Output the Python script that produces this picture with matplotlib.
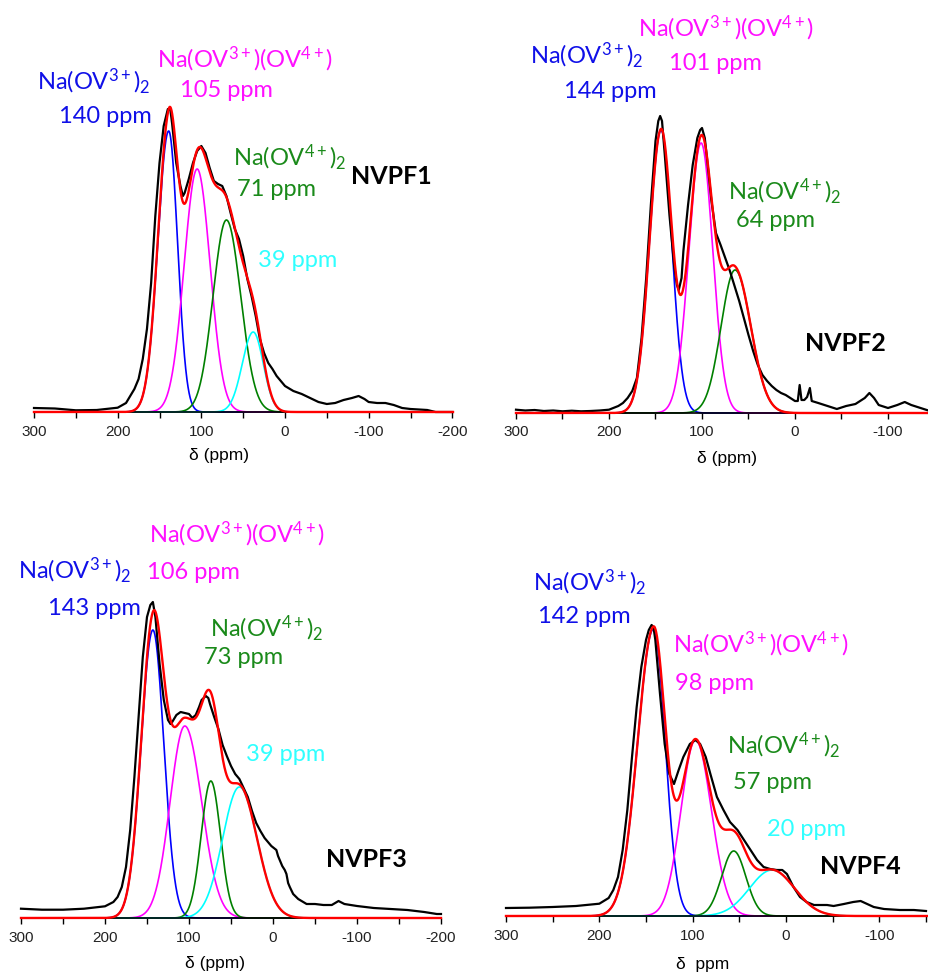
import numpy as np
import matplotlib.pyplot as plt

plt.rcParams['mathtext.fontset'] = 'custom'
plt.rcParams['mathtext.rm'] = 'Lato'
plt.rcParams['mathtext.it'] = 'Lato:italic'
plt.rcParams['mathtext.bf'] = 'Lato:bold'
plt.rcParams['axes.unicode_minus'] = False

# ---- measured spectra (ppm, intensity) ----
nvpf1_ppm = [300, 275, 250, 225, 200, 190, 180, 175, 170, 165, 160, 155, 150, 145, 140, 137, 135, 130, 125, 122,
             120, 115, 110, 105, 100, 95, 90, 85, 80, 75, 70, 65, 60, 55, 50, 45, 40, 35, 30, 25,
             20, 15, 10, 5, 0, -10, -20, -30, -40, -50, -60, -70, -80, -88, -95, -100, -110, -120, -130, -140,
             -150, -160, -170, -180, -200]
nvpf1_int = [4, 3.5, 1.7, 2, 4.3, 9, 23, 33, 53, 83, 129, 196, 249, 286, 303, 302, 289, 249, 226, 216,
             219, 233, 249, 261, 266, 259, 244, 231, 228, 226, 216, 199, 183, 173, 156, 133, 116, 96, 73, 59,
             49, 43, 36, 31, 26, 21, 18, 14, 10, 8, 9, 12, 14, 16, 13, 10, 9, 9, 7, 4,
             3, 2.5, 2, 0, 0]

nvpf2_ppm = [300, 290, 280, 270, 260, 250, 240, 230, 220, 210, 200, 190, 185, 180, 175, 170, 165, 160, 155, 150,
             147, 145, 143, 140, 135, 130, 127, 125, 122, 120, 115, 110, 105, 102, 100, 97, 95, 90, 85, 80,
             75, 70, 65, 60, 55, 50, 45, 40, 35, 30, 25, 20, 15, 10, 5, 0, -3, -5, -7, -10,
             -13, -16, -18, -25, -35, -45, -55, -65, -75, -80, -85, -90, -100, -110, -118, -125, -135, -145]
nvpf2_int = [3.3, 2.5, 3, 2, 2.5, 1.7, 2.3, 1.7, 2, 2.5, 3.3, 7, 10, 15, 22, 35, 75, 135, 208, 272,
             292, 297, 292, 258, 198, 148, 128, 123, 135, 162, 208, 248, 275, 283, 285, 275, 258, 213, 180, 168,
             155, 142, 127, 112, 95, 78, 62, 48, 38, 32, 27, 23, 20, 18, 15, 12, 12, 28, 13, 13,
             16, 25, 12, 10, 7, 4, 7, 9, 15, 20, 15, 8, 5, 8, 11, 8, 5, 2]

nvpf3_ppm = [300, 275, 250, 225, 200, 190, 185, 180, 175, 170, 165, 160, 155, 150, 146, 143, 140, 135, 130, 125,
             122, 120, 115, 110, 105, 100, 96, 92, 88, 85, 80, 77, 75, 70, 65, 60, 55, 50, 45, 40,
             35, 30, 25, 20, 15, 10, 5, 2, -4, -6, -8, -11, -14, -16, -18, -20, -24, -30, -40, -50,
             -60, -70, -78, -85, -100, -120, -140, -160, -180, -195, -200]
nvpf3_int = [9.3, 8.3, 8.3, 9.3, 11.7, 16, 21, 31, 51, 88, 141, 201, 261, 301, 313, 316, 301, 254, 218, 198,
             194, 196, 203, 206, 205, 204, 200, 203, 211, 218, 222, 220, 214, 201, 189, 173, 162, 152, 144, 139,
             130, 121, 107, 95, 87, 80, 75, 72, 68, 62, 58, 52, 48, 44, 35, 31, 24, 19, 14, 14,
             13, 13, 17, 14, 12, 10, 9, 8, 6, 4, 4]

nvpf4_ppm = [300, 275, 250, 225, 200, 190, 185, 180, 175, 170, 165, 160, 155, 150, 147, 144, 142, 140, 135, 130,
             125, 120, 115, 110, 103, 97, 92, 86, 81, 74, 67, 60, 52, 45, 38, 31, 24, 17, 10, 4,
             -1, -8, -15, -22, -30, -37, -44, -51, -62, -72, -80, -87, -94, -105, -122, -137, -150]
nvpf4_int = [8, 8.3, 9, 10, 12.3, 18, 26, 39, 66, 106, 159, 209, 249, 276, 286, 291, 289, 276, 222, 172,
             142, 132, 146, 159, 172, 176, 172, 159, 142, 119, 106, 94, 86, 76, 66, 56, 49, 47, 46, 46,
             42, 29, 19, 14, 11, 11, 11, 10, 12, 14, 15, 12, 9, 7, 6, 6, 5]

# ---- fitted components: centre, height, width (high-ppm side), width (low-ppm side) ----
nvpf1_centre = [139, 105, 70, 38]
nvpf1_height = [281, 243, 192, 80]
nvpf1_w_hi = [13, 15.5, 16, 13]
nvpf1_w_lo = [10.5, 15.5, 17, 12]

nvpf2_centre = [144, 101, 64.5]
nvpf2_height = [283, 270, 143]
nvpf2_w_hi = [12.5, 13, 15]
nvpf2_w_lo = [11.5, 12.5, 17]

nvpf3_centre = [143, 105, 74, 40]
nvpf3_height = [288, 192, 137, 131]
nvpf3_w_hi = [14, 17.5, 11.5, 20]
nvpf3_w_lo = [13, 20, 11.5, 21]

nvpf4_centre = [142, 97, 56, 15]
nvpf4_height = [287, 176, 65, 46]
nvpf4_w_hi = [17, 15.5, 13, 24]
nvpf4_w_lo = [12.5, 17, 13, 24]

comp_colors = ['#0000ff', '#ff00ff', '#008000', '#00ffff']
text_colors = ['#1010e8', '#ff10ff', '#1a8a1a', '#30ffff']

W, H = 929, 976
fig = plt.figure(figsize=(W / 100, H / 100), dpi=100)


def shape(x, c, h, w_hi, w_lo):
    w = np.where(x > c, w_hi, w_lo)
    return h * np.exp(-0.5 * ((x - c) / w) ** 2)


def panel(x300, x0, xright, base, top, ppm, inten, centre, height, w_hi, w_lo, xlabel, xlab_x, xlab_top):
    ppm_per_px = 300 / (x0 - x300)
    xmin = -(xright - x0) * ppm_per_px
    ax = fig.add_axes([x300 / W, 1 - base / H, (xright - x300) / W, (base - top) / H])
    ax.set_xlim(300, xmin)
    ax.set_ylim(0, base - top)
    grid = np.linspace(300, xmin, 2000)
    total = np.zeros_like(grid)
    for i in range(len(centre)):
        y = shape(grid, centre[i], height[i], w_hi[i], w_lo[i])
        total += y
        ax.plot(grid, y, color=comp_colors[i], lw=1.2, clip_on=False, zorder=2)
    ax.plot(ppm, inten, color='black', lw=1.6, clip_on=False, zorder=3)
    ax.plot(grid, total, color='#ff0000', lw=1.7, clip_on=False, zorder=4)
    for s in ['left', 'right', 'top']:
        ax.spines[s].set_visible(False)
    ax.spines['bottom'].set_linewidth(1.2)
    ax.set_yticks([])
    ax.set_xticks([t for t in [300, 200, 100, 0, -100, -200] if t >= xmin - 0.5])
    ax.set_xticks([t for t in [250, 150, 50, -50, -150] if t >= xmin - 0.5], minor=True)
    ax.tick_params(axis='x', which='both', direction='out', length=4, width=1.0, pad=5,
                   labelsize=11, labelcolor='#222222')
    for lab in ax.get_xticklabels():
        lab.set_fontfamily('Liberation Sans')
    ax.set_xlabel(xlabel, fontsize=12.5, fontfamily='Liberation Sans', va='top')
    ax.xaxis.set_label_coords((xlab_x - x300) / (xright - x300), -(xlab_top - base) / (base - top))
    return ax


def label(x, y, s, color, size=17, weight='normal'):
    fig.text(x / W, 1 - y / H, s, color=color, fontsize=size, fontfamily='Lato',
             fontweight=weight, ha='left', va='baseline')


na3 = r'Na(OV$^{3+}$)$_{2}$'
na34 = r'Na(OV$^{3+}$)(OV$^{4+}$)'
na4 = r'Na(OV$^{4+}$)$_{2}$'

panel(34, 285, 453, 412, 0, nvpf1_ppm, nvpf1_int, nvpf1_centre, nvpf1_height, nvpf1_w_hi, nvpf1_w_lo,
      'δ (ppm)', 219, 448)
label(37, 89, na3, text_colors[0])
label(59, 123, '140 ppm', text_colors[0])
label(157, 67, na34, text_colors[1])
label(180, 97, '105 ppm', text_colors[1])
label(233, 165, na4, text_colors[2])
label(237, 196, '71 ppm', text_colors[2])
label(258, 267, '39 ppm', text_colors[3])
label(351, 184, 'NVPF1', 'black', 18, 'bold')

panel(516, 795, 929, 413, 0, nvpf2_ppm, nvpf2_int, nvpf2_centre, nvpf2_height, nvpf2_w_hi, nvpf2_w_lo,
      'δ (ppm)', 727, 451)
label(530, 63, na3, text_colors[0])
label(564, 98, '144 ppm', text_colors[0])
label(638, 36, na34, text_colors[1])
label(669, 70, '101 ppm', text_colors[1])
label(728, 199, na4, text_colors[2])
label(736, 227, '64 ppm', text_colors[2])
label(805, 351, 'NVPF2', 'black', 18, 'bold')

panel(21, 273, 441, 918, 500, nvpf3_ppm, nvpf3_int, nvpf3_centre, nvpf3_height, nvpf3_w_hi, nvpf3_w_lo,
      'δ (ppm)', 215, 956)
label(18, 578, na3, text_colors[0])
label(48, 615, '143 ppm', text_colors[0])
label(149, 542, na34, text_colors[1])
label(147, 579, '106 ppm', text_colors[1])
label(210, 636, na4, text_colors[2])
label(204, 664, '73 ppm', text_colors[2])
label(246, 761, '39 ppm', text_colors[3])
label(326, 867, 'NVPF3', 'black', 18, 'bold')

panel(506, 786, 927, 916, 500, nvpf4_ppm, nvpf4_int, nvpf4_centre, nvpf4_height, nvpf4_w_hi, nvpf4_w_lo,
      'δ  ppm', 703, 957)
label(533, 590, na3, text_colors[0])
label(538, 623, '142 ppm', text_colors[0])
label(673, 652, na34, text_colors[1])
label(675, 690, '98 ppm', text_colors[1])
label(727, 753, na4, text_colors[2])
label(733, 789, '57 ppm', text_colors[2])
label(767, 836, '20 ppm', text_colors[3])
label(820, 874, 'NVPF4', 'black', 18, 'bold')

fig.savefig('out.png', dpi=100)
